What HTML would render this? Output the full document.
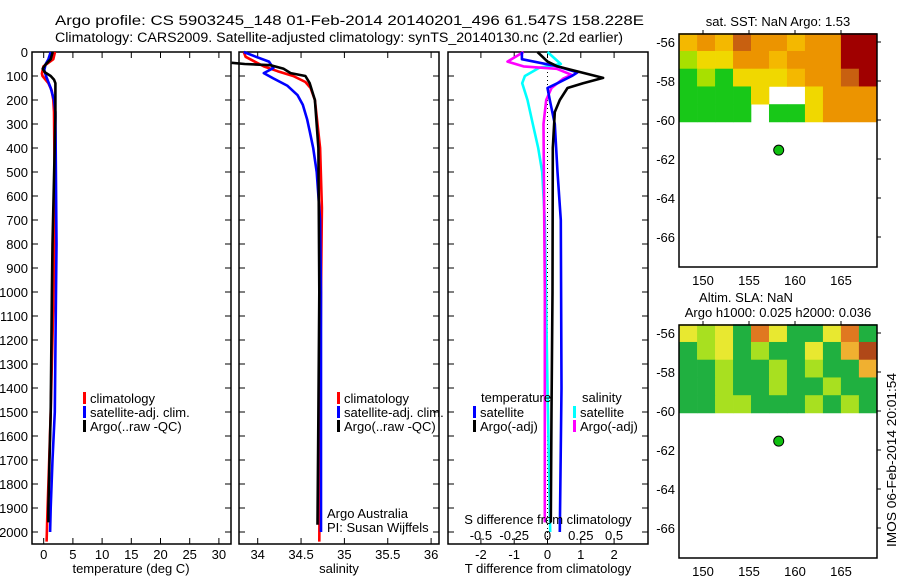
<!DOCTYPE html>
<html><head><meta charset="utf-8"><style>
html,body{margin:0;padding:0;background:#fff;}
svg{display:block;font-family:"Liberation Sans",sans-serif;}
text{fill:#000;}
</style></head><body>
<svg id="fig" width="900" height="580" viewBox="0 0 900 580" xmlns="http://www.w3.org/2000/svg">
<text x="55" y="25" font-size="13.5" textLength="589" lengthAdjust="spacingAndGlyphs">Argo profile: CS 5903245_148 01-Feb-2014 20140201_496 61.547S 158.228E</text>
<text x="55" y="42" font-size="13.5" textLength="568" lengthAdjust="spacingAndGlyphs">Climatology: CARS2009. Satellite-adjusted climatology: synTS_20140130.nc (2.2d earlier)</text>
<g id="p1"></g>
<g id="p2"></g>
<g id="p3"></g>
<g id="m1"></g>
<g id="m2"></g>
<text transform="translate(896,547) rotate(-90)" font-size="13" textLength="174" lengthAdjust="spacingAndGlyphs">IMOS 06-Feb-2014 20:01:54</text>
</svg>
<script>
// ---- data ----
const depthTicks=[0,100,200,300,400,500,600,700,800,900,1000,1100,1200,1300,1400,1500,1600,1700,1800,1900,2000];
const tempTicks=[0,5,10,15,20,25,30];
const salTicks=[34,34.5,35,35.5,36];
const salTickLabels=["34","34.5","35","35.5","36"];
const tdTicks=[-2,-1,0,1,2];
const sdTicks=[-0.5,-0.25,0,0.25,0.5];
const sdTickLabels=["-0.5","-0.25","0","0.25","0.5"];
const tClimDepth=[0,30,60,90,100,130,160,200,250,600,800,1000,1500,1700,1950,2040];
const tClimVal=[1.94,1.65,-0.05,-0.3,-0.2,0.8,1.37,1.65,1.77,1.9,1.8,1.7,1.2,0.95,0.6,0.5];
const tSatDepth=[0,30,50,75,100,150,200,250,800,1000,1500,1700,1900,2000];
const tSatVal=[1.2,0.8,0.34,0.1,0.4,1.2,1.77,2.0,2.2,2.1,1.9,1.5,1.2,1.1];
const tArgoDepth=[0,30,55,70,85,100,115,130,270,600,800,1000,1500,1700,1900,1960];
const tArgoVal=[1.54,1.2,0.23,-0.17,0.23,1.2,1.77,2.0,2.0,1.7,1.5,1.4,1.2,1.0,0.8,0.8];
const sClimDepth=[0,20,60,80,100,125,150,200,400,650,1000,1500,2040];
const sClimVal=[33.84,33.86,34.07,34.23,34.41,34.55,34.61,34.66,34.72,34.74,34.73,34.72,34.71];
const sSatDepth=[0,20,40,67,88,110,140,180,220,280,330,400,500,700,1000,2000];
const sSatVal=[33.84,33.98,34.13,34.18,34.07,34.18,34.34,34.46,34.52,34.57,34.6,34.64,34.68,34.72,34.73,34.73];
const sArgoDepth=[45,50,55,70,88,100,130,200,400,1000,1500,1970];
const sArgoVal=[33.7,33.85,34.15,34.3,34.38,34.55,34.6,34.66,34.7,34.71,34.7,34.69];
const dTSatDepth=[0,30,60,85,100,130,150,200,300,500,700,1400,2000];
const dTSatVal=[-0.77,-0.77,0.3,0.9,0.73,0.3,0.0,0.07,0.22,0.3,0.4,0.42,0.37];
const dTArgoDepth=[0,40,60,108,130,150,200,250,400,1000,1500,1960];
const dTArgoVal=[-0.3,0.0,0.3,1.67,1.07,0.6,0.37,0.22,0.16,0.15,0.12,0.1];
const dSSatDepth=[0,50,65,100,130,200,300,400,500,700,1400,2000];
const dSSatVal=[0.0,0.1,-0.06,-0.17,-0.19,-0.15,-0.11,-0.07,-0.04,-0.02,0.0,0.02];
const dSArgoDepth=[0,40,60,70,95,110,150,200,300,1000,1960];
const dSArgoVal=[-0.18,-0.3,-0.18,0.07,0.18,0.12,0.03,-0.01,-0.03,-0.02,-0.02];
const mapLatTicks=[-56,-58,-60,-62,-64,-66];
const mapLonTicks=[150,155,160,165];
const argoLat=-61.547, argoLon=158.228;
const sstGrid=[
[4,5,4,6,5,5,4,5,5,7,7],
[2,3,3,5,5,4,5,5,5,7,7],
[1,2,1,3,3,3,4,5,5,6,7],
[1,1,1,1,3,-1,-1,3,5,5,5],
[1,0.5,1,1,-1,0.5,1,3,5,5,5]];
const slaGrid=[
[3,1.5,3,0.5,4.5,3,1,1,3,5,1],
[1,2,3,1,2,1,0.5,3,1,4,6],
[1,1,2,0.5,1,2,0.5,2,1,0.5,4],
[1,1,2,1,1,2,1,1,2,0.5,1],
[1,1,2,2,1,1,1,2,1,2,1]];
const sstColors=["#20c0a8","#18c818","#a8e000","#f0d800","#f4b800","#ec9400","#c86010","#a00000"];
const slaColors=["#20b098","#20b040","#a8e020","#e8e830","#f0b030","#e07820","#b04818"];

// ---- helpers ----
const NS="http://www.w3.org/2000/svg";
function mk(tag,attrs,parent){const e=document.createElementNS(NS,tag);for(const k in attrs)e.setAttribute(k,attrs[k]);parent.appendChild(e);return e;}
const Y0=52, PXD=0.24, YB=544;
const yD=d=>Y0+d*PXD;

function panel(g,x0,x1,xs,ticks,labels,showDepth){
  const fr=mk('rect',{x:x0,y:Y0,width:x1-x0,height:YB-Y0,fill:'none',stroke:'#000','stroke-width':1.5},g);
  
  
  depthTicks.forEach(d=>{
    mk('line',{x1:x0,x2:x0+6,y1:yD(d),y2:yD(d),stroke:'#000'},g);
    mk('line',{x1:x1-6,x2:x1,y1:yD(d),y2:yD(d),stroke:'#000'},g);
    if(showDepth){const t=mk('text',{x:28,y:yD(d)+5,'font-size':13,'text-anchor':'end'},g);t.textContent=d;
      
      }
  });
  ticks.forEach((v,i)=>{
    mk('line',{x1:xs(v),x2:xs(v),y1:Y0,y2:Y0+6,stroke:'#000'},g);
    mk('line',{x1:xs(v),x2:xs(v),y1:YB-6,y2:YB,stroke:'#000'},g);
    if(labels){const t=mk('text',{x:xs(v),y:559,'font-size':13,'text-anchor':'middle'},g);t.textContent=labels[i];
      
      }
  });
}
function line(g,xs,depths,vals,color,name,w){
  const pts=depths.map((d,i)=>xs(vals[i]).toFixed(1)+','+yD(d).toFixed(1)).join(' ');
  const p=mk('polyline',{points:pts,fill:'none',stroke:color,'stroke-width':w||2.6,'stroke-linejoin':'round'},g);
  
  
}
function txt(g,x,y,s,name,size,anchor){const t=mk('text',{x:x,y:y,'font-size':size||13,'text-anchor':anchor||'start'},g);t.textContent=s;
  
  return t;}
function legend(g,x,y,color,label,name){
  const r=mk('rect',{x:x,y:y-11,width:3,height:12,fill:color},g);
  
  
  txt(g,x+7,y,label,name);
}

// panel 1
const p1=document.getElementById('p1');
const xT=v=>43.7+v*5.84;
panel(p1,32,231,xT,tempTicks,tempTicks.map(String),true);
line(p1,xT,tClimDepth,tClimVal,'#ff0000','temp-climatology-line');
line(p1,xT,tSatDepth,tSatVal,'#0000ff','temp-satellite-line');
line(p1,xT,tArgoDepth,tArgoVal,'#000000','temp-argo-line');
legend(p1,83,403,'#ff0000','climatology','legend-climatology');
legend(p1,83,417,'#0000ff','satellite-adj. clim.','legend-satellite-adj');
legend(p1,83,431,'#000000','Argo(..raw -QC)','legend-argo');
txt(p1,131,573,'temperature (deg C)','x-axis-title-temperature',13,'middle');

// panel 2
const p2=document.getElementById('p2');
const xS=v=>257.7+(v-34)*86.7;
panel(p2,239,439,xS,salTicks,salTickLabels,false);
line(p2,xS,sClimDepth,sClimVal,'#ff0000','sal-climatology-line');
line(p2,xS,sSatDepth,sSatVal,'#0000ff','sal-satellite-line');
line(p2,xS,sArgoDepth,sArgoVal,'#000000','sal-argo-line');
legend(p2,337,403,'#ff0000','climatology','legend-climatology');
legend(p2,337,417,'#0000ff','satellite-adj. clim.','legend-satellite-adj');
legend(p2,337,431,'#000000','Argo(..raw -QC)','legend-argo');
txt(p2,327,518,'Argo Australia','credit-argo-australia');
txt(p2,327,532,'PI: Susan Wijffels','credit-pi');
txt(p2,339,573,'salinity','x-axis-title-salinity',13,'middle');

// panel 3
const p3=document.getElementById('p3');
const xdT=v=>547.5+v*33.3;
const xdS=v=>547.5+v*133.2;
panel(p3,448,648,xdT,tdTicks,tdTicks.map(String),false);
const zl=mk('line',{x1:xdT(0),x2:xdT(0),y1:Y0,y2:YB,stroke:'#000','stroke-dasharray':'1,3'},p3);


line(p3,xdS,dSSatDepth,dSSatVal,'#00ffff','sdiff-satellite-line');
line(p3,xdS,dSArgoDepth,dSArgoVal,'#ff00ff','sdiff-argo-line');
line(p3,xdT,dTSatDepth,dTSatVal,'#0000ff','tdiff-satellite-line');
line(p3,xdT,dTArgoDepth,dTArgoVal,'#000000','tdiff-argo-line');
sdTicks.forEach((v,i)=>{txt(p3,xdS(v),540,sdTickLabels[i],'s-diff-tick-label',13,'middle');});
txt(p3,548,524,'S difference from climatology','s-diff-axis-title',13,'middle');
txt(p3,548,573,'T difference from climatology','t-diff-axis-title',13,'middle');
txt(p3,481,402,'temperature','legend-temperature-heading');
legend(p3,473,417,'#0000ff','satellite','legend-t-satellite');
legend(p3,473,431,'#000000','Argo(-adj)','legend-t-argo');
txt(p3,582,402,'salinity','legend-salinity-heading');
legend(p3,573,417,'#00ffff','satellite','legend-s-satellite');
legend(p3,573,431,'#ff00ff','Argo(-adj)','legend-s-argo');

// maps
function map(g,top,grid,colors,titles){
  const lat0=-55.55, lonL=147.4, lonR=168.9;
  const yL=v=>top+8+(-56-v)*19.5;
  const xL=v=>703+(v-150)*9.2;
  const rows=grid.length, cols=grid[0].length;
  const latBot=-60.1, dLat=(lat0-latBot)/rows, dLon=(lonR-lonL)/cols;
  grid.forEach((row,r)=>row.forEach((v,c)=>{
    if(v<0)return;
    const x=xL(lonL+c*dLon), y=yL(lat0-r*dLat);
    const cell=mk('rect',{x:x,y:y,width:xL(lonL+(c+1)*dLon)-x+0.3,height:yL(lat0-(r+1)*dLat)-y+0.3,fill:colors[Math.round(v)]},g);
    
    
  }));
  const fr=mk('rect',{x:679,y:top,width:198,height:233,fill:'none',stroke:'#000','stroke-width':1.5},g);
  
  
  mapLatTicks.forEach(v=>{
    mk('line',{x1:877,x2:881,y1:yL(v),y2:yL(v),stroke:'#000'},g);
    txt(g,675,yL(v)+5,String(v),'lat-tick-label',13,'end');
  });
  mapLonTicks.forEach(v=>{
    mk('line',{x1:xL(v),x2:xL(v),y1:top-4,y2:top,stroke:'#000'},g);
    txt(g,xL(v),top+251,String(v),'lon-tick-label',13,'middle');
  });
  const dot=mk('circle',{cx:xL(argoLon),cy:yL(argoLat),r:5,fill:'#10c010',stroke:'#000','stroke-width':1},g);
  
  
  titles.forEach((t,i)=>txt(g,t[1],t[2],t[0],'map-title',13,'middle'));
}
map(document.getElementById('m1'),34,sstGrid,sstColors,[["sat. SST: NaN Argo: 1.53",778,26]]);
map(document.getElementById('m2'),325,slaGrid,slaColors,[["Altim. SLA: NaN",746,302],["Argo h1000: 0.025 h2000: 0.036",778,317]]);
</script>
</body></html>
